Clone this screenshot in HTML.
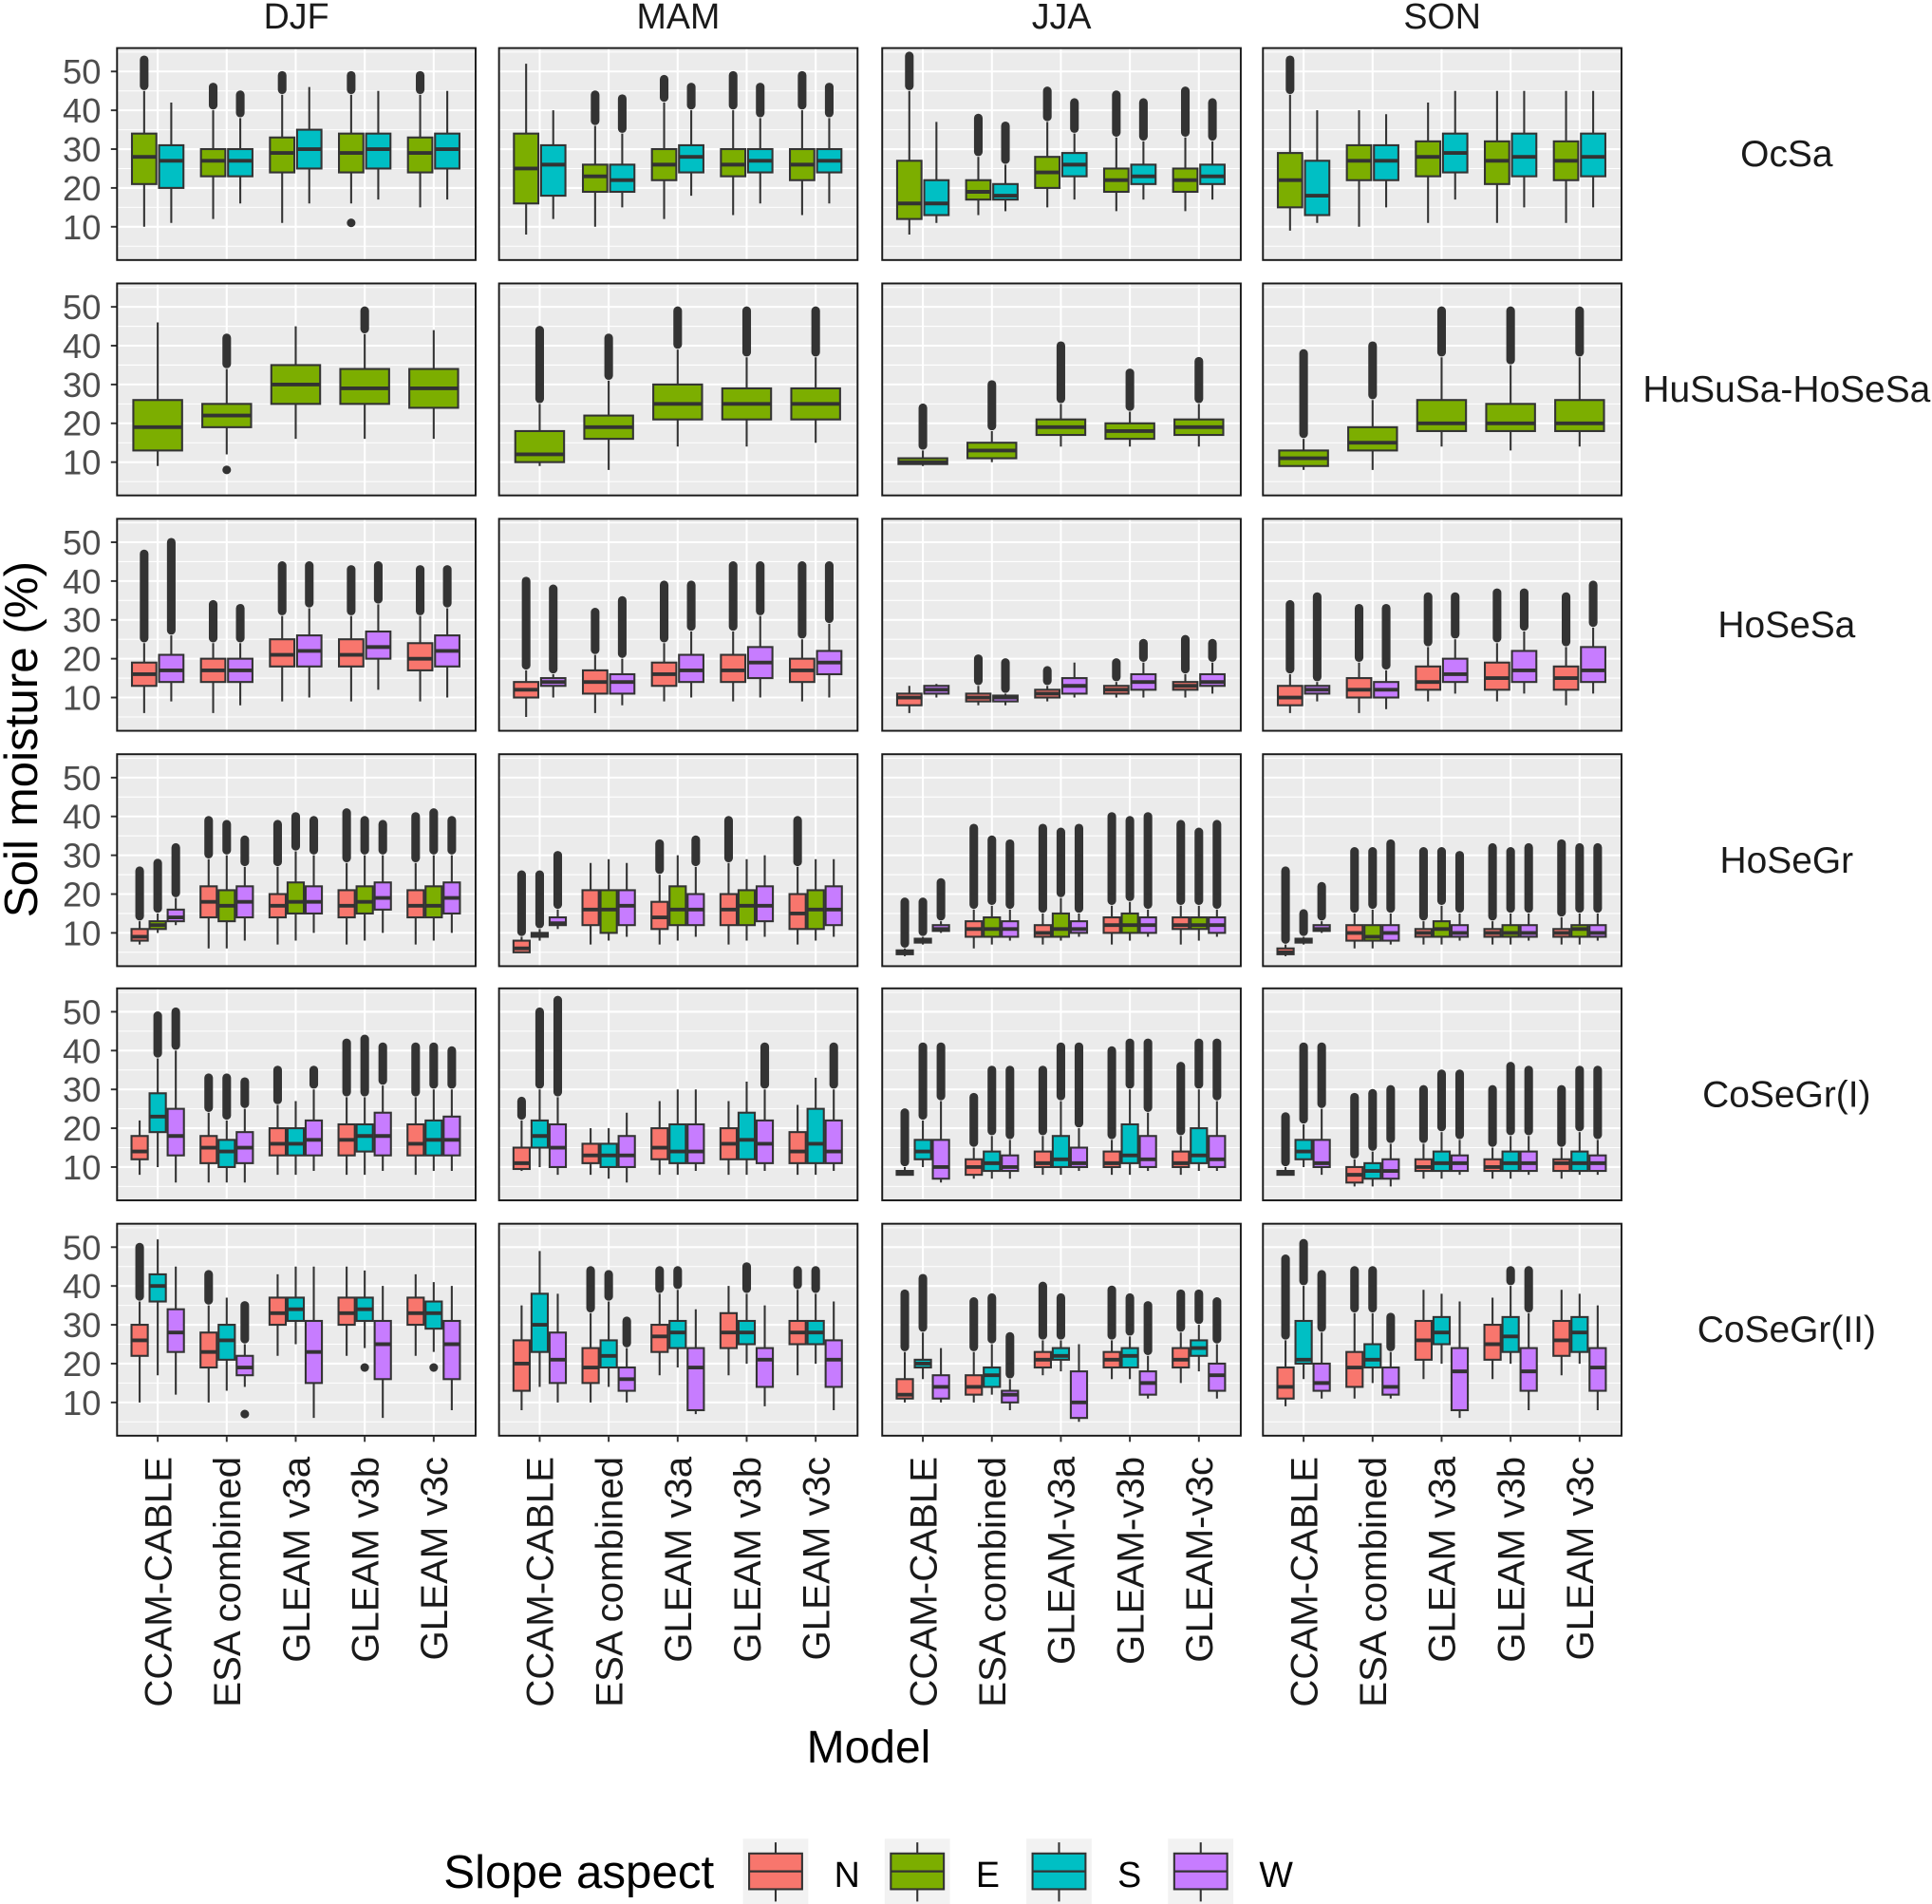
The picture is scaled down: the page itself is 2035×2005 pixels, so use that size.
<!DOCTYPE html>
<html><head><meta charset="utf-8"><style>
html,body{margin:0;padding:0;background:#fff;}
svg{display:block;font-family:"Liberation Sans",sans-serif;}
</style></head><body>
<svg id="chart" width="2035" height="2005" viewBox="0 0 1568 1545" preserveAspectRatio="none" xmlns="http://www.w3.org/2000/svg"></svg>
<script>
const seasons = ["DJF","MAM","JJA","SON"];
const modelsStd = ["CCAM-CABLE","ESA combined","GLEAM v3a","GLEAM v3b","GLEAM v3c"];
const modelsJJA = ["CCAM-CABLE","ESA combined","GLEAM-v3a","GLEAM-v3b","GLEAM-v3c"];
const rowNames = ["OcSa","HuSuSa-HoSeSa","HoSeSa","HoSeGr","CoSeGr(I)","CoSeGr(II)"];
const rowGroups = [["E","S"],["E"],["N","W"],["N","E","W"],["N","S","W"],["N","S","W"]];
const aspects = ["N","E","S","W"];
const aspectColors = {N:"#F8766D",E:"#7CAE00",S:"#00BFC4",W:"#C77CFF"};
const yTicks = [10,20,30,40,50];
// each box: [low whisker, q1, median, q3, high whisker, max outlier, low outlier]
const ocsaData = [
 [[[10,21,28,34,45,53],[11,20,27,31,42]],[[12,23,27,30,40,46],[16,23,27,30,38,44]],[[11,24,29,33,44,49],[16,25,30,35,46]],[[16,24,29,34,44,49,11],[17,25,30,34,45]],[[15,24,29,33,44,49],[17,25,30,34,45]]],
 [[[8,16,25,34,52],[12,18,26,31,40]],[[10,19,23,26,36,44],[15,19,22,26,34,43]],[[12,22,26,30,42,48],[18,24,28,31,40,46]],[[13,23,26,30,40,49],[16,24,27,30,38,46]],[[13,22,26,30,40,49],[16,24,27,30,38,46]]],
 [[[8,12,16,27,45,54],[11,13,16,22,37]],[[13,17,19,22,28,38],[14,17,18,21,26,36]],[[15,20,24,28,37,45],[17,23,26,29,34,42]],[[14,19,22,25,33,44],[17,21,23,26,32,42]],[[14,19,22,25,33,45],[17,21,23,26,32,42]]],
 [[[9,15,22,29,44,53],[11,13,18,27,40]],[[10,22,27,31,40],[15,22,27,31,39]],[[11,23,28,32,42],[17,24,29,34,45]],[[11,21,27,32,45],[15,23,28,34,45]],[[11,22,27,32,45],[15,23,28,34,45]]]
];
const husuData = [
 [[[9,13,19,26,46]],[[12,19,22,25,34,42,8]],[[16,25,30,35,45]],[[16,25,29,34,43,49]],[[16,24,29,34,44]]],
 [[[9,10,12,18,25,44]],[[8,16,19,22,31,42]],[[14,21,25,30,39,49]],[[14,21,25,29,37,49]],[[15,21,25,29,37,49]]],
 [[[9,9.5,10,11,13,24]],[[10,11,13,15,18,30]],[[14,17,19,21,25,40]],[[14,16,18,20,23,33]],[[14,17,19,21,25,36]]],
 [[[8,9,11,13,16,38]],[[8,13,15,19,26,40]],[[14,18,20,26,37,49]],[[13,18,20,25,35,49]],[[14,18,20,26,37,49]]]
];
const hosesaData = [
 [[[6,13,16,19,24,47],[9,14,17,21,26,50]],[[6,14,17,20,24,34],[8,14,17,20,24,33]],[[9,18,21,25,31,44],[10,18,22,26,33,44]],[[9,18,21,25,31,43],[12,20,23,27,34,44]],[[9,17,20,24,31,43],[10,18,22,26,33,43]]],
 [[[5,10,12,14,17,40],[10,13,14,15,16,38]],[[6,11,14,17,21,32],[8,11,14,16,20,35]],[[9,13,16,19,24,39],[10,14,17,21,27,39]],[[9,14,17,21,27,44],[10,15,19,23,31,44]],[[9,14,17,20,25,44],[10,16,19,22,29,44]]],
 [[[6,8,10,11,13],[10,11,12,13,13.5]],[[8,9,10,11,13,20],[8,9,10,10.5,11,19]],[[9,10,11,12,13,17],[10,11,13,15,19]],[[10,11,12,13,14,19],[10,12,14,16,19,24]],[[10,12,13,14,16,25],[11,13,14,16,19,24]]],
 [[[6,8,10,13,16,34],[9,11,12,13,14,36]],[[6,10,12,15,19,33],[7,10,12,14,17,33]],[[9,12,14,18,23,36],[11,14,16,20,25,36]],[[9,12,15,19,24,37],[11,14,17,22,27,37]],[[8,12,15,18,23,36],[11,14,17,23,28,39]]]
];
const hosegrData = [
 [[[7,8,9,11,13,26],[10,11,12,13,15,28],[12,13,14,16,19,32]],[[6,14,18,22,29,39],[6,13,17,21,30,38],[8,14,18,22,27,34]],[[7,14,17,20,27,38],[8,15,18,23,31,40],[10,15,18,22,30,39]],[[7,14,17,21,28,41],[8,15,18,22,30,39],[10,16,19,23,30,38]],[[7,14,17,21,28,40],[8,14,17,22,30,41],[10,15,19,23,30,39]]],
 [[[5,5,6,8,9,25],[8,9,9.5,10,11,25],[11,12,12.5,14,16,30]],[[7,12,16,21,28],[8,10,16,21,29],[9,12,17,21,28]],[[7,11,14,18,25,33],[8,12,16,22,30],[9,12,16,20,27,34]],[[7,12,16,20,28,39],[8,12,17,21,29],[9,13,17,22,30]],[[7,11,15,20,27,39],[8,11,16,21,29],[9,12,16,22,29]]],
 [[[4,4.5,5,5.5,6,18],[7,7.5,8,8.5,9,18],[10,10.5,11,12,13,23]],[[6,9,11,13,16,37],[7,9,11,14,17,34],[8,9,11,13,16,33]],[[7,9,10,12,15,37],[8,9,11,15,19,36],[9,10,11,13,15,37]],[[7,10,12,14,17,40],[8,10,12,15,18,39],[9,10,12,14,16,40]],[[7,11,12,14,17,38],[8,11,12,14,17,36],[9,10,12,14,16,38]]],
 [[[4,4.5,5,6,7,26],[7,7.5,8,8.5,9,15],[10,10.5,11,12,13,22]],[[6,8,10,12,15,31],[6,8,9,12,16,31],[7,8,10,12,15,33]],[[7,9,10,11,13,31],[7,9,11,13,17,31],[8,9,10,12,15,30]],[[7,9,10,11,13,32],[7,9,10,12,15,31],[8,9,10,12,15,32]],[[7,9,10,11,14,33],[7,9,11,12,15,32],[8,9,10,12,15,32]]]
];
const cosegr1Data = [
 [[[8,12,14,18,22],[10,19,23,29,38,49],[6,13,18,25,40,50]],[[6,11,15,18,24,33],[6,10,14,17,22,33],[6,11,15,19,25,32]],[[8,13,16,20,26,35],[8,13,16,20,27],[9,13,17,22,30,35]],[[8,13,17,21,28,42],[8,14,18,21,28,43],[9,13,18,24,31,41]],[[8,13,16,21,28,41],[9,13,17,22,30,41],[9,13,17,23,30,40]]],
 [[[9,9.5,11,15,22,27],[10,15,18,22,30,50],[8,10,15,21,28,53]],[[8,11,13,16,20],[7,10,13,16,20],[6,10,13,18,24]],[[8,12,15,20,27],[8,11,14,21,30],[9,11,14,21,30]],[[8,12,16,20,27],[8,12,17,24,32],[9,11,16,22,30,41]],[[8,11,14,19,26],[8,11,16,25,33],[9,11,14,22,30,41]]],
 [[[8,8,8.5,9,10,24],[10,12,14,17,22,41],[6,7,10,17,27,41]],[[7,8,10,12,15,28],[7,9,11,14,18,35],[7,9,10,13,17,35]],[[8,10,11,14,18,35],[8,10,12,18,27,41],[9,10,11,15,20,41]],[[8,10,11,14,17,40],[8,11,13,21,30,42],[9,10,12,18,24,42]],[[8,10,11,14,18,36],[9,11,13,20,30,42],[9,10,12,18,27,42]]],
 [[[8,8,8.5,9,10,23],[10,12,14,17,21,41],[8,10,11,17,25,41]],[[5,6,8,10,12,28],[5,7,9,11,14,29],[5,7,9,12,16,30]],[[7,9,10,12,16,30],[7,9,11,14,19,34],[8,9,11,13,17,34]],[[7,9,10,12,15,30],[7,9,11,14,18,36],[8,9,11,14,18,35]],[[7,9,11,12,15,30],[8,9,11,14,19,35],[8,9,11,13,17,35]]]
];
const cosegr2Data = [
 [[[10,22,26,30,36,50],[17,36,40,43,52],[12,23,28,34,45]],[[10,19,23,28,35,43],[13,21,26,30,37],[14,17,19,22,25,35,7]],[[22,30,33,37,43],[25,31,34,37,45],[6,15,23,31,45]],[[22,30,33,37,45],[24,31,34,37,44,null,19],[6,16,25,31,40]],[[22,30,33,37,43],[23,29,33,36,41,null,19],[8,16,25,31,40]]],
 [[[8,13,20,26,35],[14,23,30,38,49],[10,15,21,28,38]],[[10,15,19,24,33,44],[14,19,22,26,36,43],[10,13,16,19,24,31]],[[17,23,27,30,38,44],[19,24,28,31,39,44],[7,8,19,24,34]],[[17,24,28,33,40],[20,25,28,31,38,45],[9,14,21,24,35]],[[17,25,28,31,39,44],[20,25,28,31,38,44],[8,14,21,26,36]]],
 [[[10,11,12,16,23,38],[16,19,20,21,28,42],[10,11,14,17,24]],[[10,12,14,17,23,36],[12,14,17,19,25,37],[8,10,12,13,16,27]],[[17,19,21,23,26,40],[18,21,22,24,26,37],[5,6,10,18,25]],[[16,19,21,23,26,39],[16,19,22,24,27,37],[11,12,15,18,22,35]],[[15,19,21,24,28,38],[18,22,24,26,30,38],[11,13,17,20,25,36]]],
 [[[9,11,14,19,26,47],[16,20,21,31,40,51],[11,13,15,20,28,43]],[[11,14,19,23,33,44],[15,19,21,25,33,44],[11,12,14,19,23,32]],[[16,21,26,31,39],[20,25,28,32,38],[6,8,18,24,36]],[[16,21,25,30,37],[20,23,27,32,40,44],[8,13,18,24,33,44]],[[17,22,26,31,39],[20,23,28,32,38],[8,13,19,24,35]]]
];
const allData = [ocsaData,husuData,hosesaData,hosegrData,cosegr1Data,cosegr2Data];

const NS="http://www.w3.org/2000/svg";
const svg=document.getElementById('chart');
function mk(tag,attrs,parent,text){const e=document.createElementNS(NS,tag);for(const k in attrs)e.setAttribute(k,attrs[k]);if(text!=null)e.textContent=text;(parent||svg).appendChild(e);return e;}
const colX=[95,405,716,1025], panelW=291;
const rowY=[39,230,421,612,802,993], panelH=172;
const catOff=33, catStep=56, dodgeW=44;
function yScale(top,v){return top+145-(v-10)*3.15;}
function xScale(left,i){return left+catOff+i*catStep;}
const dark="#333333";

seasons.forEach((s,c)=>{
  const t=mk('text',{x:colX[c]+panelW/2,y:23,'text-anchor':'middle','font-size':29,fill:'#1a1a1a'},svg,s);
  
  
});
rowNames.forEach((r,ri)=>{
  const t=mk('text',{x:1450,y:rowY[ri]+panelH/2+10,'text-anchor':'middle','font-size':30,fill:'#1a1a1a'},svg,r);
  
  
});

rowNames.forEach((rn,ri)=>{
  const top=rowY[ri];
  yTicks.forEach(v=>{
    const y=yScale(top,v);
    mk('line',{x1:90,x2:95,y1:y,y2:y,stroke:dark,'stroke-width':1.5});
    const t=mk('text',{x:82,y:y+10,'text-anchor':'end','font-size':28,fill:'#4D4D4D'},svg,String(v));
    
    
  });
  seasons.forEach((s,c)=>{
    const left=colX[c];
    const g=mk('g',{});
    
    
    mk('rect',{x:left,y:top,width:panelW,height:panelH,fill:'#EBEBEB'},g);
    for(let v=5;v<=55;v+=10){const y=yScale(top,v);if(y>top&&y<top+panelH)mk('line',{x1:left,x2:left+panelW,y1:y,y2:y,stroke:'#fff','stroke-width':0.8},g);}
    yTicks.forEach(v=>{const y=yScale(top,v);mk('line',{x1:left,x2:left+panelW,y1:y,y2:y,stroke:'#fff','stroke-width':1.6},g);});
    for(let i=0;i<5;i++){const x=xScale(left,i);mk('line',{x1:x,x2:x,y1:top,y2:top+panelH,stroke:'#fff','stroke-width':1.6},g);}
    const groups=rowGroups[ri];
    const slot=dodgeW/groups.length, bw=slot*0.9;
    allData[ri][c].forEach((boxes,mi)=>{
      boxes.forEach((b,gi)=>{
        const cx=xScale(left,mi)-dodgeW/2+slot*(gi+0.5);
        const [lo,q1,md,q3,hi,om,lowo]=b;
        const bg=mk('g',{},g);
        
        
        if(om!=null){mk('line',{x1:cx,x2:cx,y1:yScale(top,hi+1.3),y2:yScale(top,om),stroke:dark,'stroke-width':7,'stroke-linecap':'round'},bg);}
        if(lowo!=null){mk('circle',{cx:cx,cy:yScale(top,lowo),r:3.5,fill:dark},bg);}
        mk('line',{x1:cx,x2:cx,y1:yScale(top,hi),y2:yScale(top,lo),stroke:dark,'stroke-width':1.6},bg);
        mk('rect',{x:cx-bw/2,y:yScale(top,q3),width:bw,height:Math.max(yScale(top,q1)-yScale(top,q3),1),fill:aspectColors[groups[gi]],stroke:dark,'stroke-width':1.6},bg);
        mk('line',{x1:cx-bw/2,x2:cx+bw/2,y1:yScale(top,md),y2:yScale(top,md),stroke:dark,'stroke-width':3},bg);
      });
    });
    mk('rect',{x:left,y:top,width:panelW,height:panelH,fill:'none',stroke:'#1a1a1a','stroke-width':1.5},g);
    if(ri===5){
      const names=c===2?modelsJJA:modelsStd;
      for(let i=0;i<5;i++){
        const x=xScale(left,i);
        mk('line',{x1:x,x2:x,y1:top+panelH,y2:top+panelH+5,stroke:dark,'stroke-width':1.5});
        const t=mk('text',{x:0,y:0,'text-anchor':'end','font-size':31,fill:'#1a1a1a',transform:`translate(${x+11},${top+panelH+17}) rotate(-90)`},svg,names[i]);
        
        
      }
    }
  });
});
let t=mk('text',{x:0,y:0,'text-anchor':'middle','font-size':38,fill:'#000',transform:'translate(30,600) rotate(-90)'},svg,'Soil moisture (%)');


t=mk('text',{x:705,y:1430,'text-anchor':'middle','font-size':37,fill:'#000'},svg,'Model');


const lg=mk('g',{});


t=mk('text',{x:360,y:1532,'font-size':38,fill:'#000'},lg,'Slope aspect');


const keyX=[603,718,833,948];
aspects.forEach((a,i)=>{
  const kx=keyX[i];
  const kg=mk('g',{},lg);
  
  
  mk('rect',{x:kx,y:1492,width:53,height:53,fill:'#F2F2F2'},kg);
  mk('line',{x1:kx+26.5,x2:kx+26.5,y1:1495,y2:1543,stroke:dark,'stroke-width':1.6},kg);
  mk('rect',{x:kx+5,y:1504,width:43,height:29,fill:aspectColors[a],stroke:dark,'stroke-width':1.6},kg);
  mk('line',{x1:kx+5,x2:kx+48,y1:1518.5,y2:1518.5,stroke:dark,'stroke-width':1.8},kg);
  mk('text',{x:kx+74,y:1531,'font-size':29,fill:'#000'},kg,a);
});
</script>
</body></html>
